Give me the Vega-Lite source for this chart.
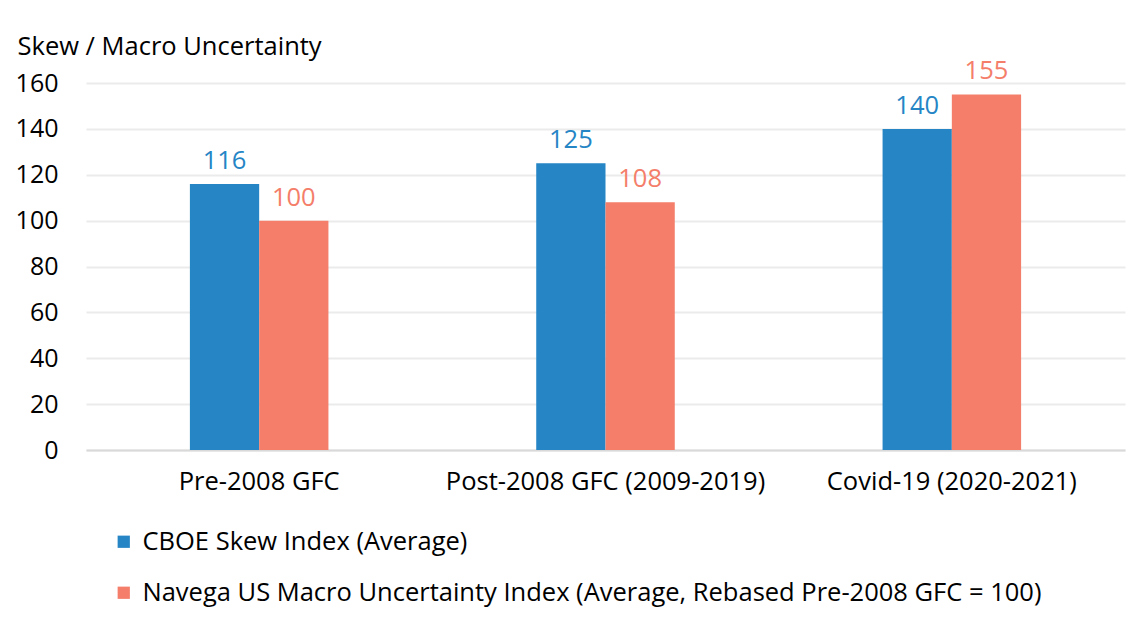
{
  "$schema": "https://vega.github.io/schema/vega-lite/v6.json",
  "width": 1039,
  "height": 367,
  "autosize": {"type": "none"},
  "padding": {"left": 86, "top": 83, "right": 22, "bottom": 170},
  "background": "white",
  "config": {
    "font": "Open Sans",
    "view": {"stroke": null}
  },
  "data": {
    "values": [
      {"period": "Pre-2008 GFC", "series": "CBOE Skew Index (Average)", "value": 116},
      {"period": "Pre-2008 GFC", "series": "Navega US Macro Uncertainty Index (Average, Rebased Pre-2008 GFC = 100)", "value": 100},
      {"period": "Post-2008 GFC (2009-2019)", "series": "CBOE Skew Index (Average)", "value": 125},
      {"period": "Post-2008 GFC (2009-2019)", "series": "Navega US Macro Uncertainty Index (Average, Rebased Pre-2008 GFC = 100)", "value": 108},
      {"period": "Covid-19 (2020-2021)", "series": "CBOE Skew Index (Average)", "value": 140},
      {"period": "Covid-19 (2020-2021)", "series": "Navega US Macro Uncertainty Index (Average, Rebased Pre-2008 GFC = 100)", "value": 155}
    ]
  },
  "encoding": {
    "x": {
      "field": "period", "type": "nominal", "sort": null,
      "scale": {"paddingInner": 0.6, "paddingOuter": 0.3},
      "axis": {
        "title": null, "labelAngle": 0, "labelFontSize": 25.5, "labelColor": "#000000",
        "ticks": false, "labelPadding": 19, "domainColor": "#D9D9D9", "domainWidth": 2,
        "grid": false, "labelLimit": 400
      }
    },
    "xOffset": {"field": "series", "type": "nominal", "sort": null, "scale": {"paddingInner": 0, "paddingOuter": 0}},
    "y": {
      "field": "value", "type": "quantitative",
      "scale": {"domain": [0, 160], "nice": false},
      "axis": {
        "values": [0, 20, 40, 60, 80, 100, 120, 140, 160],
        "title": "Skew / Macro Uncertainty", "titleAngle": 0, "titleAlign": "left",
        "titleBaseline": "alphabetic", "titleX": -69, "titleY": -29, "titleFontSize": 25.5,
        "titleFontWeight": "normal", "titleColor": "#000000",
        "labelFontSize": 25, "labelColor": "#000000", "labelPadding": 28,
        "ticks": false, "domain": false, "gridColor": "#EBEBEB", "gridWidth": 2
      }
    },
    "color": {
      "field": "series", "type": "nominal", "sort": null,
      "scale": {"range": ["#2585C5", "#F47E6A"]},
      "legend": {
        "title": null, "orient": "none", "legendX": 25, "legendY": 446,
        "direction": "vertical", "symbolType": "square", "symbolSize": 150,
        "symbolStrokeWidth": 0, "labelFontSize": 25.5, "labelColor": "#000000",
        "rowPadding": 24, "labelOffset": 6, "labelLimit": 1100
      }
    }
  },
  "layer": [
    {"mark": {"type": "bar"}},
    {
      "mark": {"type": "text", "baseline": "bottom", "dy": -10, "fontSize": 25.5},
      "encoding": {"text": {"field": "value", "type": "quantitative"}}
    }
  ]
}
